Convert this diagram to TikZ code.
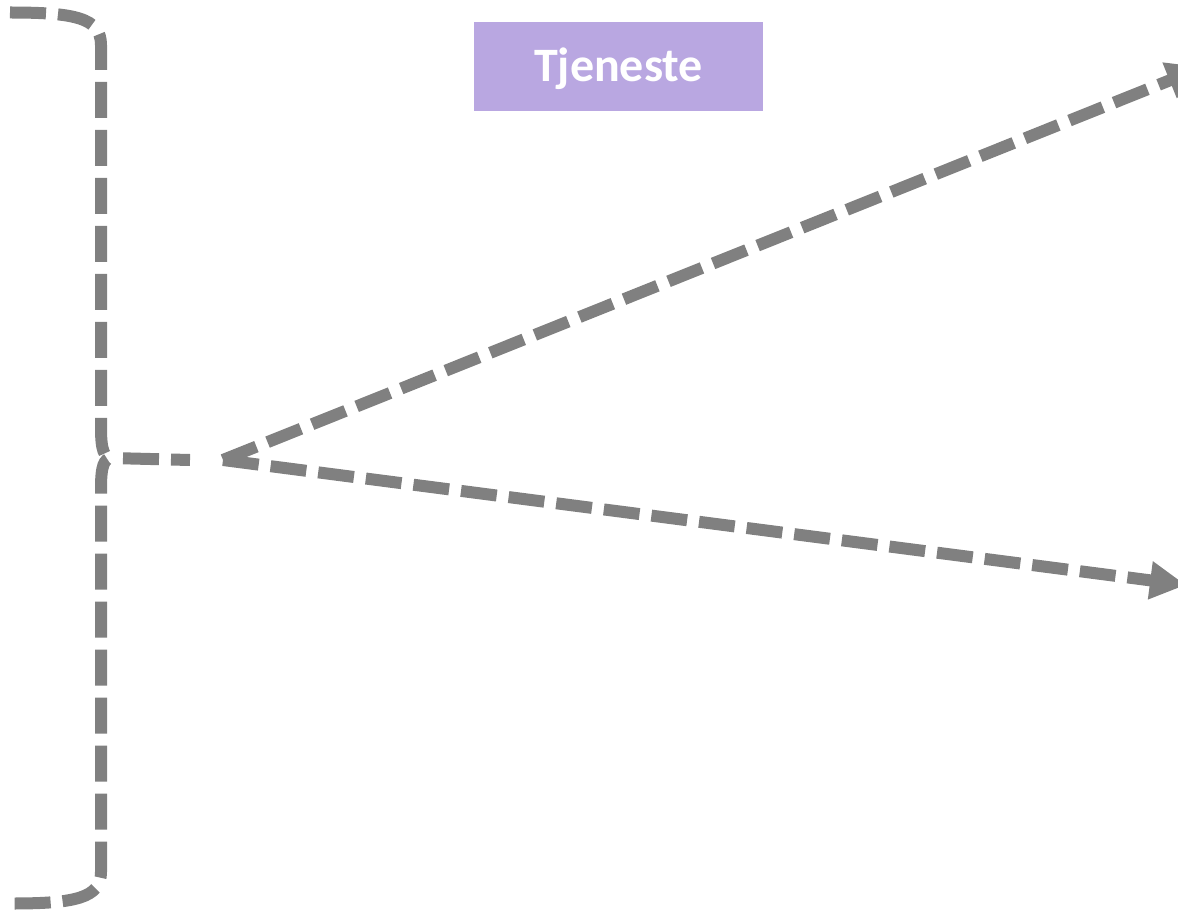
\documentclass[tikz,border=0pt]{standalone}
\usepackage{fontspec}
\setmainfont{Carlito}
\usetikzlibrary{arrows.meta}
\definecolor{linegray}{RGB}{128,128,128}
\definecolor{boxpurple}{RGB}{185,167,225}
\begin{document}
\begin{tikzpicture}[x=1pt,y=1pt,
  dashline/.style={draw=linegray,line width=12pt,dash pattern=on 36pt off 12pt},
  arrowline/.style={dashline,-{Triangle[width=36pt,length=36pt]}},
  labelbox/.style={fill=boxpurple,text=white,font=\bfseries\fontsize{48}{56}\selectfont,
    minimum width=289pt,minimum height=89pt,inner sep=0pt,text height=31pt,text depth=0pt}]
\useasboundingbox (0,0) rectangle (1178,-912);
\node[labelbox] (label) at (618.5,-66.5) {Tjeneste};
\coordinate (tip) at (111,-458);
\coordinate (stub) at (190,-460);
\coordinate (start) at (223,-460);
\coordinate (end1) at (1203,-67);
\coordinate (end2) at (1186,-585);
\draw[dashline] (10,-12.5) .. controls (75,-12.5) and (101,-18) .. (101,-45)
  -- (101,-428) .. controls (101,-450) and (104,-457) .. (tip)
  .. controls (104,-459) and (101,-466) .. (101,-488)
  -- (101,-872) .. controls (101,-898) and (75,-903.5) .. (12,-903.5);
\draw[dashline,dash phase=36pt] (tip) -- (stub);
\draw[arrowline] (start) -- (end1);
\draw[arrowline] (start) -- (end2);
\end{tikzpicture}
\end{document}
